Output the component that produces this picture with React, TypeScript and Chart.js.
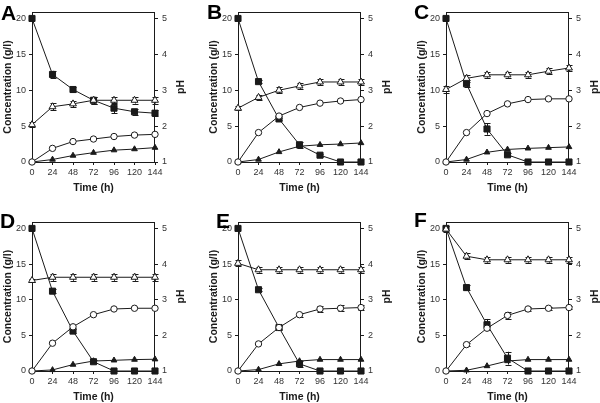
import React, { useEffect, useRef } from 'react';
import { Chart, registerables } from 'chart.js';
Chart.register(...registerables);

// ---------- data ----------
const TIME = [0, 24, 48, 72, 96, 120, 144];
const CONC_TICKS = [0, 5, 10, 15, 20];
const PH_TICKS = [1, 2, 3, 4, 5];

// Panel A
const SUB_A = [20, 12.2, 10.1, 8.6, 7.5, 7.0, 6.8];
const SUB_ERR_A = [0, 0.5, 0.4, 0.5, 0.7, 0.4, 0.4];
const PH_A = [2.04, 2.54, 2.62, 2.72, 2.72, 2.72, 2.72];
const PH_ERR_A = [0.07, 0.1, 0.09, 0.09, 0.09, 0.09, 0.09];
const CIR_A = [0, 1.9, 2.85, 3.2, 3.55, 3.75, 3.85];
const TRI_A = [0, 0.35, 0.9, 1.3, 1.65, 1.8, 2.0];

// Panel B
const SUB_B = [20, 11.2, 6.0, 2.4, 0.95, 0, 0];
const SUB_ERR_B = [0, 0.2, 0.2, 0.4, 0.2, 0, 0];
const PH_B = [2.5, 2.8, 3.0, 3.12, 3.23, 3.23, 3.23];
const PH_ERR_B = [0.05, 0.08, 0.08, 0.08, 0.08, 0.08, 0.08];
const CIR_B = [0, 4.1, 6.4, 7.6, 8.2, 8.5, 8.7];
const TRI_B = [0, 0.35, 1.4, 2.2, 2.4, 2.5, 2.65];

// Panel C
const SUB_C = [20, 10.9, 4.6, 1.0, 0, 0, 0];
const SUB_ERR_C = [0, 0.5, 0.8, 0.2, 0, 0, 0];
const PH_C = [3.02, 3.33, 3.43, 3.43, 3.43, 3.53, 3.62];
const PH_ERR_C = [0.1, 0.1, 0.08, 0.08, 0.08, 0.08, 0.08];
const CIR_C = [0, 4.1, 6.75, 8.1, 8.7, 8.8, 8.8];
const TRI_C = [0, 0.35, 1.35, 1.75, 1.9, 2.0, 2.1];

// Panel D
const SUB_D = [20, 11.2, 5.6, 1.3, 0, 0, 0];
const SUB_ERR_D = [0, 0.3, 0.3, 0.2, 0, 0, 0];
const PH_D = [3.54, 3.63, 3.63, 3.63, 3.63, 3.63, 3.63];
const PH_ERR_D = [0.04, 0.1, 0.1, 0.1, 0.1, 0.1, 0.1];
const CIR_D = [0, 3.9, 6.2, 7.9, 8.7, 8.8, 8.8];
const TRI_D = [0, 0.15, 0.9, 1.4, 1.5, 1.6, 1.65];

// Panel E
const SUB_E = [20, 11.4, 6.1, 1.0, 0, 0, 0];
const SUB_ERR_E = [0, 0.2, 0.2, 0.4, 0, 0, 0];
const PH_E = [4.02, 3.84, 3.84, 3.84, 3.84, 3.84, 3.84];
const PH_ERR_E = [0.08, 0.08, 0.08, 0.08, 0.08, 0.08, 0.08];
const CIR_E = [0, 3.8, 6.1, 7.9, 8.7, 8.8, 8.9];
const CIR_ERR_E = [0, 0, 0.3, 0.3, 0.4, 0.4, 0.4];
const TRI_E = [0, 0.2, 1.0, 1.4, 1.6, 1.6, 1.6];

// Panel F
const SUB_F = [20, 11.7, 6.5, 1.8, 0, 0, 0];
const SUB_ERR_F = [0, 0.3, 0.8, 0.9, 0, 0, 0];
const PH_F = [4.98, 4.22, 4.12, 4.12, 4.12, 4.12, 4.12];
const PH_ERR_F = [0.08, 0.08, 0.08, 0.08, 0.08, 0.08, 0.08];
const CIR_F = [0, 3.7, 6.0, 7.8, 8.7, 8.8, 8.9];
const CIR_ERR_F = [0, 0.2, 0.3, 0.5, 0.3, 0.2, 0.2];
const TRI_F = [0, 0.1, 0.7, 1.4, 1.6, 1.6, 1.6];

const LETTERS = ['A', 'B', 'C', 'D', 'E', 'F'];

// ---------- layout / style ----------
const FONT = '"Liberation Sans", Arial, Helvetica, sans-serif';
const INK = '#1a1a1a';
const CONC_MAX = 20.9;
const PH_MAX = 1 + CONC_MAX / 5;
const LEFT_W = 32;
const RIGHT_W = 40;
const AREA_W = 123;
const BOTTOM_H = 32;

type PanelDef = {
  letter: string;
  sub: number[]; subErr: number[];
  ph: number[]; phErr: number[];
  cir: number[]; cirErr?: number[];
  tri: number[];
  areaLeft: number; top: number; height: number;
  letterX: number; letterY: number;
};

const PANELS: PanelDef[] = [
  { letter: LETTERS[0], sub: SUB_A, subErr: SUB_ERR_A, ph: PH_A, phErr: PH_ERR_A, cir: CIR_A, tri: TRI_A, areaLeft: 32, top: 0, height: 194, letterX: 1, letterY: 20 },
  { letter: LETTERS[1], sub: SUB_B, subErr: SUB_ERR_B, ph: PH_B, phErr: PH_ERR_B, cir: CIR_B, tri: TRI_B, areaLeft: 238, top: 0, height: 194, letterX: 207, letterY: 19 },
  { letter: LETTERS[2], sub: SUB_C, subErr: SUB_ERR_C, ph: PH_C, phErr: PH_ERR_C, cir: CIR_C, tri: TRI_C, areaLeft: 446, top: 0, height: 194, letterX: 414, letterY: 19 },
  { letter: LETTERS[3], sub: SUB_D, subErr: SUB_ERR_D, ph: PH_D, phErr: PH_ERR_D, cir: CIR_D, tri: TRI_D, areaLeft: 32, top: 210, height: 193, letterX: 0, letterY: 228 },
  { letter: LETTERS[4], sub: SUB_E, subErr: SUB_ERR_E, ph: PH_E, phErr: PH_ERR_E, cir: CIR_E, cirErr: CIR_ERR_E, tri: TRI_E, areaLeft: 238, top: 210, height: 193, letterX: 216, letterY: 228 },
  { letter: LETTERS[5], sub: SUB_F, subErr: SUB_ERR_F, ph: PH_F, phErr: PH_ERR_F, cir: CIR_F, cirErr: CIR_ERR_F, tri: TRI_F, areaLeft: 446, top: 210, height: 193, letterX: 414, letterY: 227 },
];

const toXY = (vals: number[]) => TIME.map((t, i) => ({ x: t, y: vals[i] }));

function PanelChart({ p }: { p: PanelDef }) {
  const ref = useRef<HTMLCanvasElement>(null);
  const left = p.areaLeft - LEFT_W;
  const width = LEFT_W + AREA_W + RIGHT_W;

  useEffect(() => {
    const errorBars = {
      id: 'errorBars',
      beforeDatasetsDraw(chart: any) {
        const ctx = chart.ctx;
        ctx.save();
        ctx.strokeStyle = INK;
        ctx.lineWidth = 1;
        chart.data.datasets.forEach((ds: any, i: number) => {
          if (!ds.errs) return;
          const meta = chart.getDatasetMeta(i);
          const ys = chart.scales[ds.yAxisID];
          ds.errs.forEach((e: number, j: number) => {
            if (!e) return;
            const pt = meta.data[j];
            const v = ds.data[j].y;
            const x = Math.round(pt.x) + 0.5;
            const y1 = ys.getPixelForValue(v + e);
            const y2 = ys.getPixelForValue(v - e);
            ctx.beginPath();
            ctx.moveTo(x, y1); ctx.lineTo(x, y2);
            ctx.moveTo(x - 3, Math.round(y1) + 0.5); ctx.lineTo(x + 3, Math.round(y1) + 0.5);
            ctx.moveTo(x - 3, Math.round(y2) + 0.5); ctx.lineTo(x + 3, Math.round(y2) + 0.5);
            ctx.stroke();
          });
        });
        ctx.restore();
      },
    };
    const decor = {
      id: 'decor',
      beforeDatasetsDraw(chart: any) {
        const ctx = chart.ctx;
        const a = chart.chartArea;
        ctx.save();
        ctx.strokeStyle = INK;
        ctx.lineWidth = 1;
        ctx.strokeRect(Math.round(a.left) + 0.5, Math.round(a.top) + 0.5, Math.round(a.right - a.left) - 1, Math.round(a.bottom - a.top));
        ctx.restore();
      },
      afterDraw(chart: any) {
        const ctx = chart.ctx;
        const a = chart.chartArea;
        ctx.save();
        // right axis title, reading bottom-to-top
        ctx.fillStyle = INK;
        ctx.font = `bold 10.5px ${FONT}`;
        ctx.textAlign = 'center';
        ctx.textBaseline = 'middle';
        ctx.translate(a.right + 26, (a.top + a.bottom) / 2);
        ctx.rotate(-Math.PI / 2);
        ctx.fillText('pH', 0, 0);
        ctx.restore();
        ctx.save();
        ctx.fillStyle = '#000';
        ctx.font = `bold 21px ${FONT}`;
        ctx.textAlign = 'left';
        ctx.textBaseline = 'alphabetic';
        ctx.fillText(p.letter, p.letterX - left, p.letterY - p.top);
        ctx.restore();
      },
    };

    const tickFont = { family: FONT, size: 9 };
    const titleFont = { family: FONT, size: 10.5, weight: 'bold' as const };
    const common = { borderColor: INK, borderWidth: 1, pointBorderColor: INK, pointBorderWidth: 1, clip: false };

    const chart = new Chart(ref.current!, {
      type: 'line',
      data: {
        datasets: [
          {
            ...common, data: toXY(p.ph), yAxisID: 'y1', errs: p.phErr,
            pointStyle: 'triangle', pointRadius: 4, pointBackgroundColor: '#fff',
          } as any,
          {
            ...common, data: toXY(p.cir), yAxisID: 'y', errs: p.cirErr,
            pointStyle: 'circle', pointRadius: 3.2, pointBackgroundColor: '#fff',
          } as any,
          {
            ...common, data: toXY(p.tri), yAxisID: 'y',
            pointStyle: 'triangle', pointRadius: 3.3, pointBackgroundColor: INK,
          } as any,
          {
            ...common, data: toXY(p.sub), yAxisID: 'y', errs: p.subErr,
            pointStyle: 'rect', pointRadius: 4.3, pointBackgroundColor: INK,
          } as any,
        ],
      },
      options: {
        responsive: false,
        animation: false,
        events: [],
        layout: { padding: { top: 12, left: 0, right: 0, bottom: 0 } },
        plugins: { legend: { display: false }, tooltip: { enabled: false } },
        elements: { line: { tension: 0 } },
        scales: {
          x: {
            type: 'linear', min: 0, max: 144,
            afterFit: (s: any) => { s.height = BOTTOM_H; },
            afterBuildTicks: (s: any) => { s.ticks = TIME.map((v) => ({ value: v })); },
            ticks: { font: tickFont, color: '#333', padding: 2, maxRotation: 0, autoSkip: false, includeBounds: false },
            grid: { drawOnChartArea: false, drawTicks: true, tickLength: 3, color: INK },
            border: { display: false },
            title: { display: true, text: 'Time (h)', font: titleFont, color: INK, padding: { top: 0, bottom: 0 } },
          },
          y: {
            type: 'linear', position: 'left', min: 0, max: CONC_MAX,
            afterFit: (s: any) => { s.width = LEFT_W; },
            afterBuildTicks: (s: any) => { s.ticks = CONC_TICKS.map((v) => ({ value: v })); },
            ticks: { font: tickFont, color: '#333', padding: 3, includeBounds: false },
            grid: { drawOnChartArea: false, drawTicks: true, tickLength: 3, color: INK },
            border: { display: false },
            title: { display: true, text: 'Concentration (g/l)', font: titleFont, color: INK, padding: { top: 2, bottom: 0 } },
          },
          y1: {
            type: 'linear', position: 'right', min: 1, max: PH_MAX,
            afterFit: (s: any) => { s.width = RIGHT_W; },
            afterBuildTicks: (s: any) => { s.ticks = PH_TICKS.map((v) => ({ value: v })); },
            ticks: { font: tickFont, color: '#333', padding: 4, includeBounds: false },
            grid: { drawOnChartArea: false, drawTicks: true, tickLength: 3, color: INK },
            border: { display: false },
          },
        },
      } as any,
      plugins: [errorBars, decor],
    });
    return () => chart.destroy();
  }, []);

  return (
    <canvas
      ref={ref}
      width={width}
      height={p.height}
      style={{ position: 'absolute', left, top: p.top, width, height: p.height, display: 'block' }}
    />
  );
}

export default function App() {
  return (
    <div style={{ position: 'absolute', left: 0, top: 0, width: 600, height: 403, overflow: 'hidden', background: '#fff' }}>
      {PANELS.map((p) => (
        <PanelChart key={p.letter} p={p} />
      ))}
    </div>
  );
}
